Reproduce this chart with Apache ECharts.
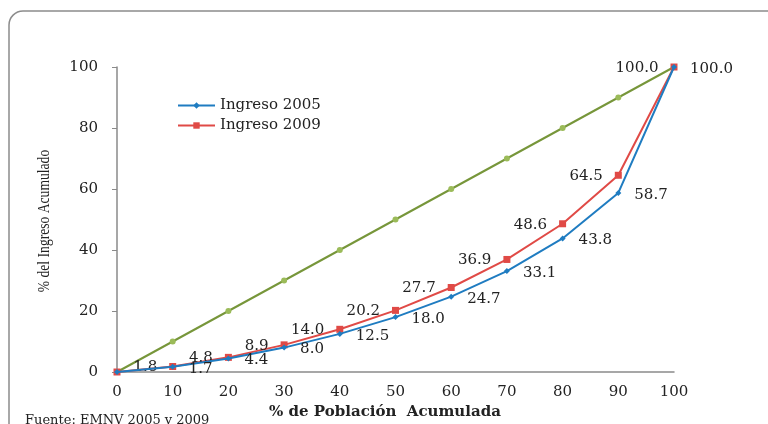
<!DOCTYPE html>
<html>
<head>
<meta charset="utf-8">
<script src="https://cdn.jsdelivr.net/npm/echarts@6/dist/echarts.min.js"></script>
<style>
  html, body { margin: 0; padding: 0; background: #fff; }
  #chart { width: 768px; height: 424px; }
</style>
</head>
<body>
<div id="chart"></div>
<script>
// Population deciles (% acumulado)
const poblacion = [0, 10, 20, 30, 40, 50, 60, 70, 80, 90, 100];
// Cumulative income shares
const ingreso2005 = [0, 1.7, 4.4, 8.0, 12.5, 18.0, 24.7, 33.1, 43.8, 58.7, 100.0];
const ingreso2009 = [0, 1.8, 4.8, 8.9, 14.0, 20.2, 27.7, 36.9, 48.6, 64.5, 100.0];
// Line of perfect equality
const igualdad = [0, 10, 20, 30, 40, 50, 60, 70, 80, 90, 100];

const serifFont = 'DejaVu Serif';
const pairs = (ys) => poblacion.map((x, i) => [x, ys[i]]);
const valueLabel = (p) => p.dataIndex === 0 ? '' : p.value[1].toFixed(1);

const chart = echarts.init(document.getElementById('chart'));
chart.setOption({
  animation: false,
  backgroundColor: '#ffffff',
  grid: { left: 117, right: 94, top: 67, bottom: 52, containLabel: false, outerBoundsMode: 'none' },
  legend: {
    data: ['Ingreso 2005', 'Ingreso 2009'],
    orient: 'vertical',
    left: 172,
    top: 93,
    itemWidth: 37,
    itemHeight: 8,
    itemGap: 5,
    textStyle: { fontFamily: serifFont, fontSize: 15, color: '#222' }
  },
  xAxis: {
    type: 'value',
    min: 0, max: 100, interval: 10,
    axisLine: { lineStyle: { color: '#8a8a8a', width: 1.5 } },
    axisTick: { show: false },
    splitLine: { show: false },
    axisLabel: { fontFamily: serifFont, fontSize: 15, color: '#222', margin: 13 }
  },
  yAxis: {
    type: 'value',
    min: 0, max: 100, interval: 20,
    axisLine: { show: true, lineStyle: { color: '#8a8a8a', width: 1.5 } },
    axisTick: { show: true, length: 5, lineStyle: { color: '#8a8a8a' } },
    splitLine: { show: false },
    axisLabel: { fontFamily: serifFont, fontSize: 15, color: '#222', margin: 19 }
  },
  series: [
    {
      name: 'Igualdad',
      type: 'line',
      data: pairs(igualdad),
      symbol: 'circle',
      symbolSize: 6,
      z: 1,
      lineStyle: { color: '#77963a', width: 2 },
      itemStyle: { color: '#9bbb59' }
    },
    {
      name: 'Ingreso 2005',
      type: 'line',
      data: pairs(ingreso2005),
      symbol: 'diamond',
      symbolSize: 6,
      z: 3,
      lineStyle: { color: '#1f7cc1', width: 2 },
      itemStyle: { color: '#1f7cc1' },
      label: {
        show: true,
        position: 'right',
        distance: 13,
        offset: [0, 2],
        fontFamily: serifFont,
        fontSize: 15,
        color: '#222',
        formatter: valueLabel
      }
    },
    {
      name: 'Ingreso 2009',
      type: 'line',
      data: pairs(ingreso2009),
      symbol: 'rect',
      symbolSize: 7,
      z: 2,
      lineStyle: { color: '#e04a46', width: 2 },
      itemStyle: { color: '#e04a46' },
      label: {
        show: true,
        position: 'left',
        distance: 12,
        offset: [0, 1],
        fontFamily: serifFont,
        fontSize: 15,
        color: '#222',
        formatter: valueLabel
      }
    }
  ],
  graphic: [
    {
      type: 'rect',
      shape: { x: 9, y: 11, width: 800, height: 450, r: 14 },
      style: { fill: 'none', stroke: '#8c8c8c', lineWidth: 1.5 },
      silent: true,
      z: -1
    },
    // Y axis title: condensed serif, rotated
    {
      type: 'text',
      x: 45,
      y: 221,
      rotation: Math.PI / 2,
      scaleX: 0.8,
      style: {
        text: '% del Ingreso Acumulado',
        font: '17px "Liberation Serif"',
        fill: '#222',
        align: 'center',
        verticalAlign: 'middle'
      }
    },
    // X axis title
    {
      type: 'text',
      x: 385,
      y: 412,
      style: {
        text: '% de Población  Acumulada',
        font: 'bold 15px "DejaVu Serif"',
        fill: '#222',
        align: 'center',
        verticalAlign: 'middle'
      }
    },
    {
      type: 'text',
      left: 25,
      top: 414,
      style: {
        text: 'Fuente: EMNV 2005 y 2009',
        font: '13px "DejaVu Serif"',
        fill: '#222'
      }
    }
  ]
});
</script>
</body>
</html>
